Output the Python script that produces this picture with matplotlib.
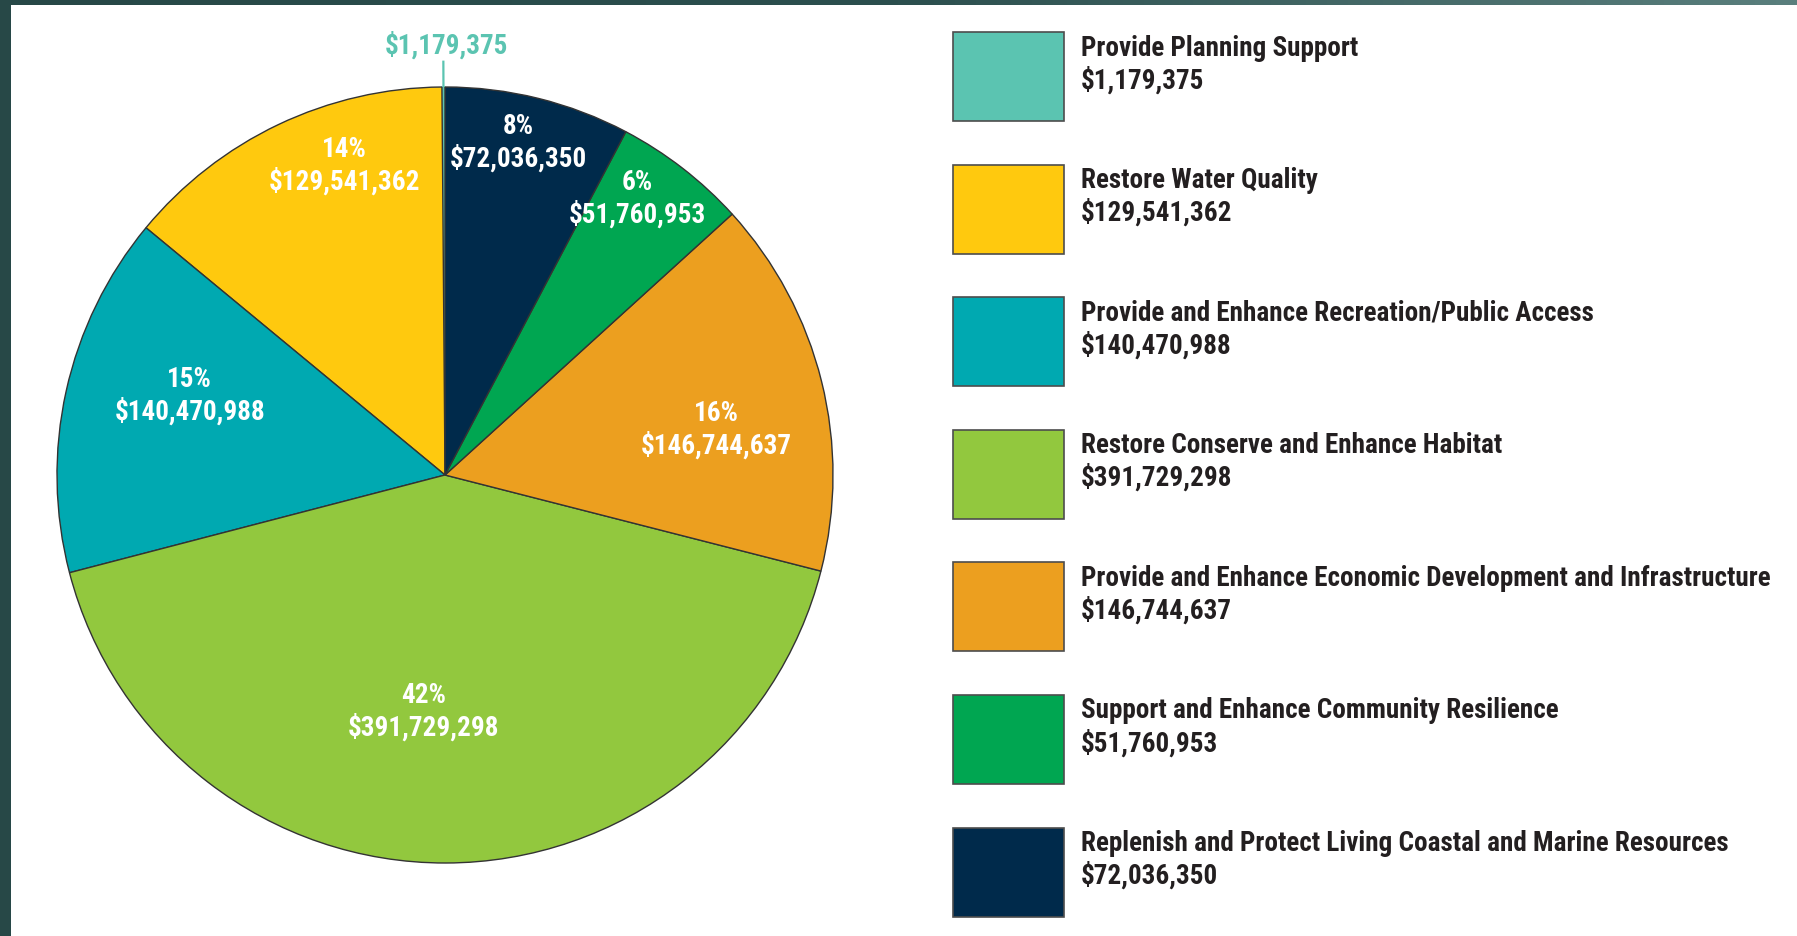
import matplotlib
matplotlib.use("Agg")
import matplotlib.pyplot as plt
import numpy as np
from matplotlib import font_manager
from matplotlib.patches import Rectangle

# chart data
categories = [
    "Provide Planning Support",
    "Restore Water Quality",
    "Provide and Enhance Recreation/Public Access",
    "Restore Conserve and Enhance Habitat",
    "Provide and Enhance Economic Development and Infrastructure",
    "Support and Enhance Community Resilience",
    "Replenish and Protect Living Coastal and Marine Resources",
]
amounts = [1179375, 129541362, 140470988, 391729298, 146744637, 51760953, 72036350]
percent_labels = ["", "14%", "15%", "42%", "16%", "6%", "8%"]
colors = ["#5BC4B1", "#FFC90E", "#00A9B1", "#92C83E", "#EC9F1F", "#00A651", "#002A4B"]


def pick_font():
    names = {f.name for f in font_manager.fontManager.ttflist}
    for n in ["Liberation Sans Narrow", "DejaVu Sans Condensed", "Roboto Condensed",
              "Open Sans Condensed"]:
        if n in names:
            return n, True
    for n in sorted(names):
        if "Narrow" in n or "Condensed" in n:
            return n, True
    return "DejaVu Sans", False


font_name, narrow = pick_font()
fsize = 19.5 if narrow else 15

W, H = 1797, 937
fig = plt.figure(figsize=(W / 100, H / 100), dpi=100)
fig.patch.set_facecolor("white")

# dark frame on the left and top
frame_ax = fig.add_axes([0, 0, 1, 1], zorder=0)
frame_ax.set_axis_off()
frame_ax.add_patch(Rectangle((0, 0), 11, H, color="#274847", lw=0))
grad = np.linspace(0, 1, 256).reshape(1, -1)
frame_ax.imshow(grad, extent=(0, W, H - 6, H), aspect="auto",
                cmap=matplotlib.colors.LinearSegmentedColormap.from_list(
                    "top", ["#274847", "#2c4f4e", "#5a7f7d"]), zorder=1)
frame_ax.set_xlim(0, W)
frame_ax.set_ylim(0, H)

ax = fig.add_axes([0, 0, 1, 1], zorder=2)
ax.patch.set_alpha(0)

cx, cy, R = 445, H - 476, 388
wedges, _ = ax.pie(amounts, colors=colors, startangle=90, counterclock=True,
                   center=(cx, cy), radius=R,
                   wedgeprops=dict(edgecolor="#333333", linewidth=1.0))
wedges[0].set_edgecolor(colors[0])

# label placement inside slices (radius fraction, angle tweak in degrees)
label_r = [0, 0.84, 0.69, 0.61, 0.71, 0.87, 0.88]
label_dang = [0, -7.4, -5.0, -5.4, -4.3, 3.0, 1.5]

for i, w in enumerate(wedges):
    if i == 0:
        continue
    ang = np.deg2rad((w.theta1 + w.theta2) / 2 + label_dang[i])
    x = cx + label_r[i] * R * np.cos(ang)
    y = cy + label_r[i] * R * np.sin(ang)
    ax.text(x, y, f"{percent_labels[i]}\n${amounts[i]:,}", ha="center", va="center",
            color="white", fontsize=fsize, fontweight="bold", family=font_name,
            linespacing=1.2)

# tiny slice gets a leader line and an outside label
w0 = wedges[0]
a0 = np.deg2rad((w0.theta1 + w0.theta2) / 2)
ax.plot([cx + R * np.cos(a0), cx + 1.068 * R * np.cos(a0)],
        [cy + R * np.sin(a0), cy + 1.068 * R * np.sin(a0)],
        color=colors[0], lw=1.6, solid_capstyle="butt")
ax.text(cx + 1.11 * R * np.cos(a0) + 3, cy + 1.11 * R * np.sin(a0), f"${amounts[0]:,}",
        ha="center", va="center", color=colors[0], fontsize=fsize, fontweight="bold",
        family=font_name)

# legend on the right
sw_x, sw_w, sw_h = 953, 111, 89
row_top0, row_step = H - 33, 132.6
for i, (name, amt, col) in enumerate(zip(categories, amounts, colors)):
    top = row_top0 - i * row_step
    ax.add_patch(Rectangle((sw_x, top - sw_h), sw_w, sw_h, facecolor=col,
                           edgecolor="#4d4d4d", linewidth=1.2))
    ax.text(1081, top - 15, name, ha="left", va="center", color="#231F20",
            fontsize=fsize, fontweight="bold", family=font_name)
    ax.text(1081, top - 47, f"${amt:,}", ha="left", va="center", color="#231F20",
            fontsize=fsize, fontweight="bold", family=font_name)

ax.set_xlim(0, W)
ax.set_ylim(0, H)
ax.set_aspect("auto")
ax.set_axis_off()

fig.savefig("out.png", dpi=100, facecolor="white")
